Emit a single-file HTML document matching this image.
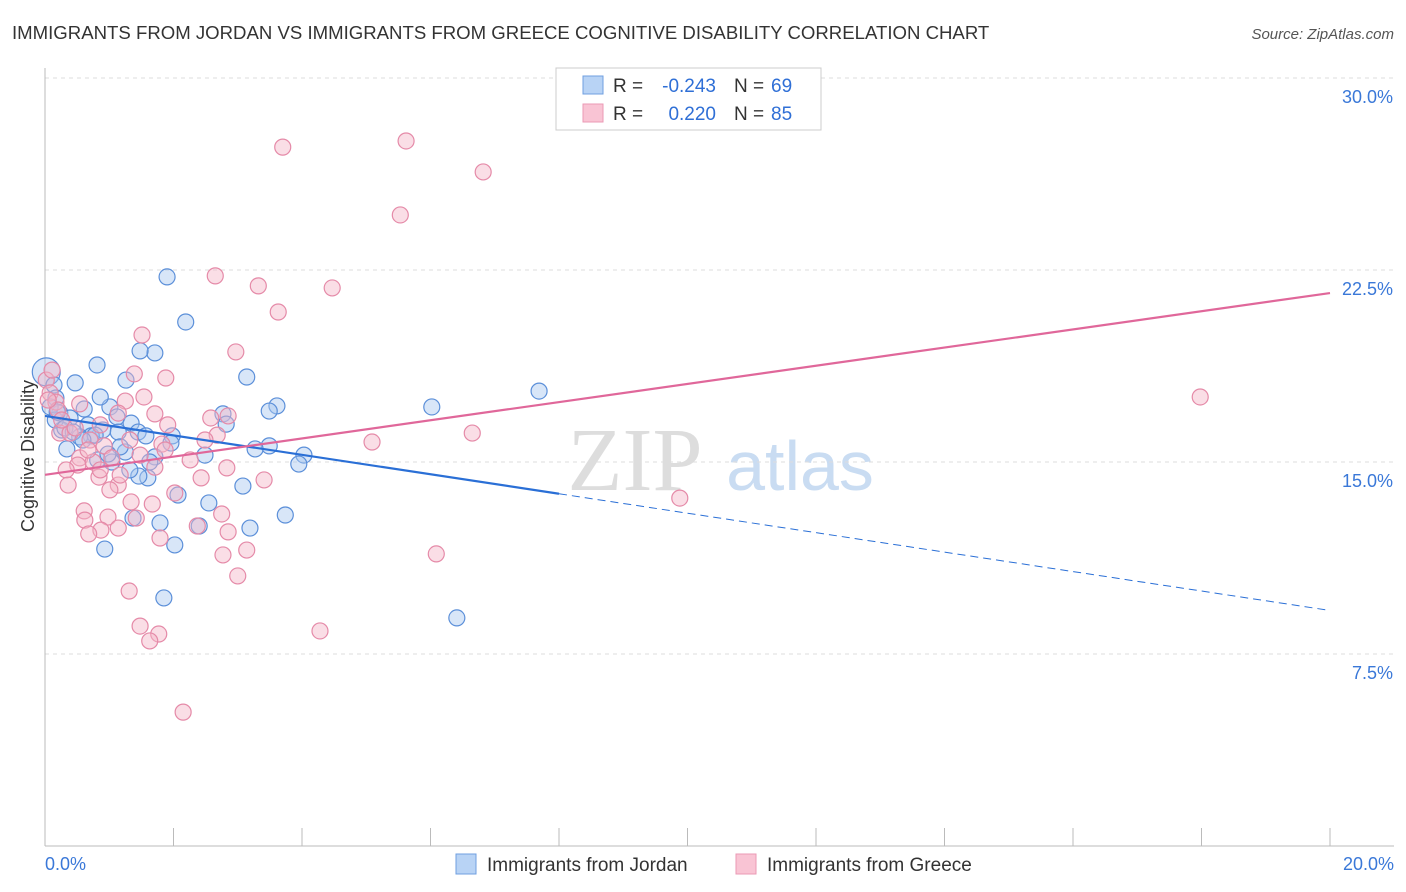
<!DOCTYPE html>
<html><head><meta charset="utf-8"><style>
body{margin:0;background:#fff;font-family:"Liberation Sans",sans-serif}
svg{display:block}
</style></head><body>
<svg id="chart" width="1406" height="892">
<text x="12" y="39" font-size="18.6" fill="#333">IMMIGRANTS FROM JORDAN VS IMMIGRANTS FROM GREECE COGNITIVE DISABILITY CORRELATION CHART</text>
<text x="1394" y="39" font-size="15" fill="#555" font-style="italic" text-anchor="end">Source: ZipAtlas.com</text>
<text x="635" y="490" font-size="90" fill="#ddd" font-family="Liberation Serif" text-anchor="middle">ZIP</text>
<text x="800" y="490" font-size="70" fill="#c9dcf2" text-anchor="middle">atlas</text>
<g id="grid"></g>
<g id="axes"></g>
<g id="pts"></g>
<g id="trends"></g>
<text x="34" y="456" font-size="18" fill="#333" text-anchor="middle" transform="rotate(-90 34 456)">Cognitive Disability</text>
<g>
<rect x="556" y="68" width="265" height="62" fill="#fff" stroke="#ccc"/>
<rect x="583" y="76" width="20" height="18" fill="#b8d3f5" stroke="#6f9fe0"/>
<rect x="583" y="104" width="20" height="18" fill="#f9c4d4" stroke="#eb9ab5"/>
<text x="613" y="92" font-size="19" fill="#333">R =</text>
<text x="716" y="92" font-size="19" fill="#2f6fd6" text-anchor="end">-0.243</text>
<text x="734" y="92" font-size="19" fill="#333">N =</text>
<text x="771" y="92" font-size="19" fill="#2f6fd6">69</text>
<text x="613" y="120" font-size="19" fill="#333">R =</text>
<text x="716" y="120" font-size="19" fill="#2f6fd6" text-anchor="end">0.220</text>
<text x="734" y="120" font-size="19" fill="#333">N =</text>
<text x="771" y="120" font-size="19" fill="#2f6fd6">85</text>
</g>
<g>
<rect x="456" y="854" width="20" height="20" fill="#b8d3f5" stroke="#6f9fe0"/>
<text x="487" y="871" font-size="19" fill="#333">Immigrants from Jordan</text>
<rect x="736" y="854" width="20" height="20" fill="#f9c4d4" stroke="#eb9ab5"/>
<text x="767" y="871" font-size="19" fill="#333">Immigrants from Greece</text>
</g>
</svg>
<script>
const yTicks=[7.5,15,22.5,30];
const yTickLabels=["7.5%","15.0%","22.5%","30.0%"];
const jordanX=[1.90,2.19,0.81,1.26,1.71,1.48,0.47,0.02,0.14,3.14,7.69,6.02,3.61,3.49,2.77,2.82,1.01,0.86,0.61,1.12,1.34,0.23,0.39,0.67,0.90,1.14,1.45,1.57,1.98,1.96,0.72,0.26,0.54,3.49,3.27,4.03,3.95,2.49,1.71,1.60,1.46,1.25,1.32,1.04,0.82,0.34,2.07,2.55,3.08,3.74,3.19,2.40,1.79,1.37,2.02,0.93,1.85,6.41,0.17,0.08,0.16,0.31,0.44,0.78,1.17,0.98,0.59,1.63,0.19];
const jordanY=[22.23,20.47,18.79,18.20,19.26,19.34,18.09,18.52,18.01,18.32,17.77,17.15,17.19,16.99,16.88,16.48,17.15,17.54,17.07,16.76,16.52,16.91,16.72,16.45,16.25,16.17,16.17,16.02,16.02,15.74,16.02,16.25,15.98,15.63,15.51,15.27,14.92,15.27,15.20,14.38,14.45,15.39,14.69,15.00,15.08,15.51,13.71,13.40,14.06,12.93,12.42,12.50,12.62,12.81,11.76,11.60,9.69,8.91,17.50,17.15,16.64,16.33,16.17,16.05,15.59,15.31,15.86,15.00,16.95];
const greeceX=[3.70,5.62,6.82,5.53,2.65,3.32,4.47,3.63,1.51,2.97,1.88,1.39,0.02,0.08,0.17,1.54,1.25,0.54,17.98,1.71,1.14,2.58,2.85,0.86,1.91,2.68,6.65,5.09,1.82,1.32,0.23,0.39,0.70,0.92,0.54,0.75,1.04,0.51,0.33,1.71,2.83,2.43,3.41,0.84,0.36,1.14,1.01,2.02,1.34,1.67,0.61,0.98,1.42,2.75,0.62,2.37,1.14,0.87,0.68,1.79,2.85,3.14,2.77,6.09,3.00,9.88,1.31,1.48,1.77,1.63,4.28,2.15,0.11,0.20,0.05,0.26,0.47,0.67,0.86,1.17,1.48,1.87,2.26,2.49];
const greeceY=[27.30,27.54,26.33,24.65,22.27,21.88,21.80,20.86,19.96,19.30,18.28,18.44,18.20,17.70,17.34,17.54,17.38,17.27,17.54,16.88,16.91,16.72,16.80,16.45,16.45,16.05,16.13,15.78,15.70,15.86,16.13,16.13,15.86,15.63,15.16,15.00,15.16,14.88,14.69,14.80,14.77,14.38,14.30,14.41,14.10,14.10,13.91,13.79,13.44,13.36,13.09,12.85,12.81,12.97,12.73,12.50,12.42,12.34,12.19,12.03,12.27,11.56,11.37,11.41,10.55,13.59,9.96,8.59,8.28,8.01,8.40,5.23,18.59,17.03,17.42,16.64,16.33,15.47,14.69,14.49,15.27,15.47,15.08,15.86];
const jordanTrend=[16.8,-0.38];
const greeceTrend=[14.5,0.355];
const NS="http://www.w3.org/2000/svg";
const X0=45,X1=1330,Y0=846,PY=192/7.5;
const sx=v=>X0+(v/20)*(X1-X0), sy=v=>Y0-v*PY;
function mk(t,a,p){const e=document.createElementNS(NS,t);for(const k in a)e.setAttribute(k,a[k]);p.appendChild(e);return e;}
const grid=document.getElementById('grid'),axes=document.getElementById('axes');
yTicks.forEach((t,i)=>{
 const l=mk('line',{x1:X0,x2:1394,y1:sy(t),y2:sy(t),stroke:'#ddd','stroke-dasharray':'4 4'},grid);
 
 
 const tx=mk('text',{x:1393,y:sy(t)+25,'font-size':18,fill:'#3a78d8','text-anchor':'end'},axes);
 tx.textContent=yTickLabels[i];
 
 
});
const al=mk('line',{x1:X0,x2:X0,y1:68,y2:Y0,stroke:'#bbb'},axes);


const bl=mk('line',{x1:X0,x2:1394,y1:Y0,y2:Y0,stroke:'#bbb'},axes);


for(let i=1;i<=10;i++){const t=mk('line',{x1:sx(i*2),x2:sx(i*2),y1:Y0,y2:Y0-18,stroke:'#bbb'},axes);
 
 }
[['0.0%',X0,'start'],['20.0%',1394,'end']].forEach(d=>{const t=mk('text',{x:d[1],y:870,'font-size':18,fill:'#3a78d8','text-anchor':d[2]},axes);t.textContent=d[0];
 
 });
const pts=document.getElementById('pts');
function dots(X,Y,f,s,name){X.forEach((x,i)=>{const big=(x<0.05&&Y[i]>18.3);
 const c=mk('circle',{cx:sx(x),cy:sy(Y[i]),r:big?14:8,fill:f,'fill-opacity':0.45,stroke:s,'stroke-width':1.2},pts);
 
 });}
dots(jordanX,jordanY,'#a9c8f0','#5b8fd9','jordan-point');
dots(greeceX,greeceY,'#f4b6c8','#e58aa8','greece-point');
const tr=document.getElementById('trends');
const jf=x=>jordanTrend[0]+jordanTrend[1]*x, gf=x=>greeceTrend[0]+greeceTrend[1]*x;
let a=mk('line',{x1:sx(0),y1:sy(jf(0)),x2:sx(8),y2:sy(jf(8)),stroke:'#2a6fd6','stroke-width':2.2},tr);


a=mk('line',{x1:sx(8),y1:sy(jf(8)),x2:sx(20),y2:sy(jf(20)),stroke:'#2a6fd6','stroke-width':1,'stroke-dasharray':'8 5'},tr);


a=mk('line',{x1:sx(0),y1:sy(gf(0)),x2:sx(20),y2:sy(gf(20)),stroke:'#e0679a','stroke-width':2.2},tr);


</script>
</body></html>
